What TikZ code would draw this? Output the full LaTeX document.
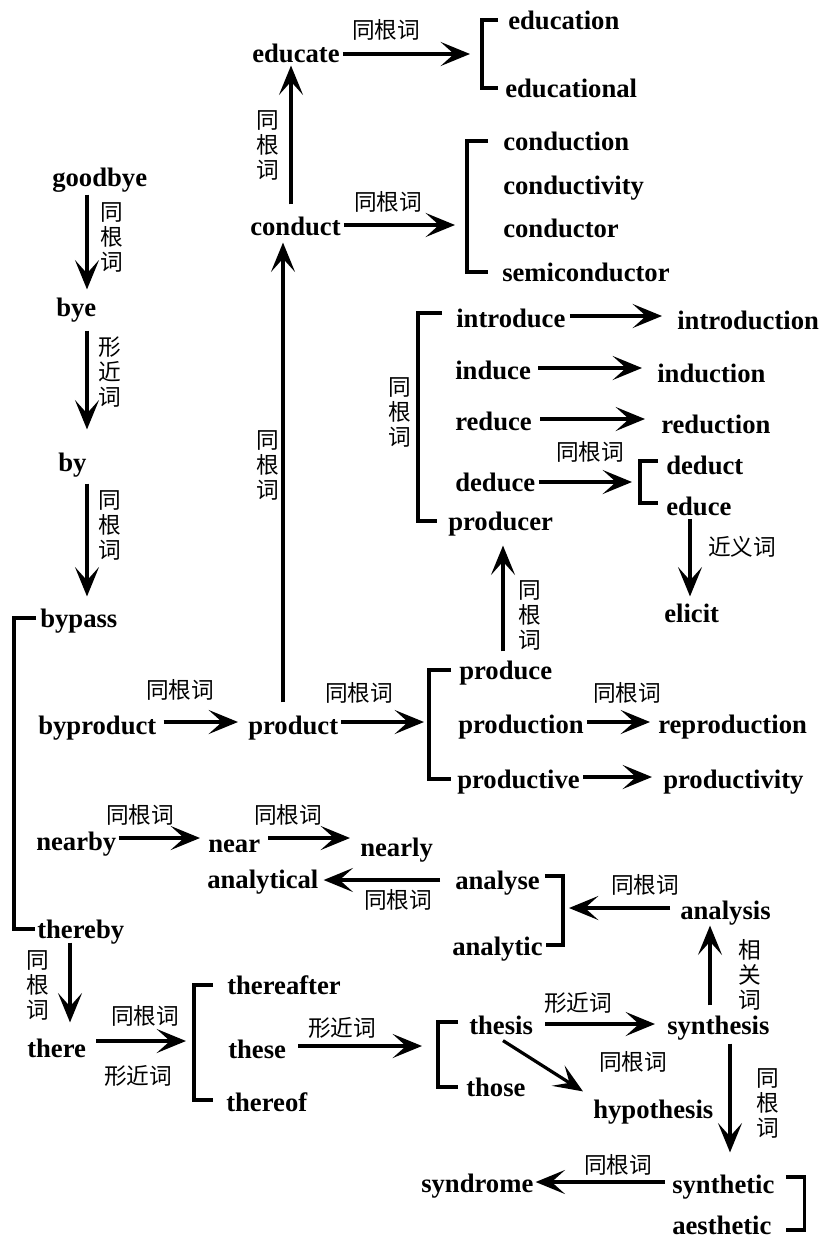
\documentclass[tikz,border=0pt]{standalone}
\usepackage{fontspec}
\setmainfont{Liberation Serif}
\newfontfamily\cjk{Noto Sans CJK SC}
\usetikzlibrary{arrows.meta,calc}
\begin{document}
\begin{tikzpicture}[x=0.75pt,y=-0.75pt,
 w/.style={anchor=west, inner sep=0pt, font=\fontsize{20}{24}\selectfont\bfseries, text height=14pt, text depth=0pt},
 lab/.style={inner sep=0pt, font=\cjk\fontsize{17}{18.75}\selectfont},
 vlab/.style={lab, align=center},
 arr/.style={line width=2.4pt, -{Stealth[length=22pt,width=18pt,inset=10pt]}},
 brk/.style={line width=2.4pt}]
\useasboundingbox (0,0) rectangle (821,1239);

% words
\node[w] (goodbye) at (52,177) {goodbye};
\node[w] (bye) at (56,307) {bye};
\node[w] (by) at (58,462) {by};
\node[w] (bypass) at (40,618) {bypass};
\node[w] (byproduct) at (38,725) {byproduct};
\node[w] (product) at (248,725) {product};
\node[w] (conduct) at (250,226) {conduct};
\node[w] (educate) at (252,53) {educate};
\node[w] (education) at (508,20) {education};
\node[w] (educational) at (505,88) {educational};
\node[w] (conduction) at (503,141) {conduction};
\node[w] (conductivity) at (503,185) {conductivity};
\node[w] (conductor) at (503,228) {conductor};
\node[w] (semiconductor) at (502,272) {semiconductor};
\node[w] (introduce) at (456,318) {introduce};
\node[w] (introduction) at (677,320) {introduction};
\node[w] (induce) at (455,370) {induce};
\node[w] (induction) at (657,373) {induction};
\node[w] (reduce) at (455,421) {reduce};
\node[w] (reduction) at (661,424) {reduction};
\node[w] (deduce) at (455,482) {deduce};
\node[w] (deduct) at (666,465) {deduct};
\node[w] (educe) at (666,506) {educe};
\node[w] (producer) at (448,521) {producer};
\node[w] (elicit) at (664,613) {elicit};
\node[w] (produce) at (459,670) {produce};
\node[w] (production) at (458,724) {production};
\node[w] (productive) at (457,779) {productive};
\node[w] (reproduction) at (658,724) {reproduction};
\node[w] (productivity) at (663,779) {productivity};
\node[w] (nearby) at (36,841) {nearby};
\node[w] (near) at (208,843) {near};
\node[w] (nearly) at (360,847) {nearly};
\node[w] (analytical) at (207,879) {analytical};
\node[w] (analyse) at (455,880) {analyse};
\node[w] (analytic) at (452,946) {analytic};
\node[w] (analysis) at (680,910) {analysis};
\node[w] (thereby) at (37,929) {thereby};
\node[w] (there) at (27,1048) {there};
\node[w] (thereafter) at (227,985) {thereafter};
\node[w] (these) at (228,1049) {these};
\node[w] (thereof) at (226,1102) {thereof};
\node[w] (thesis) at (469,1025) {thesis};
\node[w] (those) at (466,1087) {those};
\node[w] (synthesis) at (667,1025) {synthesis};
\node[w] (hypothesis) at (593,1109) {hypothesis};
\node[w] (synthetic) at (672,1184) {synthetic};
\node[w] (aesthetic) at (672,1225) {aesthetic};
\node[w] (syndrome) at (421,1183) {syndrome};

% brackets
\draw[brk] ($(bypass.west)+(-4,0)$) -- ($(bypass.west)+(-26,0)$) coordinate (b0) |- ($(thereby.west)+(-2,0)$);
\draw[brk] ($(education.west)+(-10,0)$) -- ($(education.west)+(-26,0)$) coordinate (b6) |- ($(educational.west)+(-7,0)$);
\draw[brk] ($(conduction.west)+(-15,0)$) -- ($(conduction.west)+(-36,0)$) coordinate (b7) |- ($(semiconductor.west)+(-14,0)$);
\draw[brk] ($(introduce.west)+(-14,-5)$) -- ($(introduce.west)+(-38,-5)$) coordinate (b4) |- ($(producer.west)+(-11,0)$);
\draw[brk] ($(deduct.west)+(-8,-4)$) -- ($(deduct.west)+(-26,-4)$) coordinate (b5) |- ($(educe.west)+(-8,-3)$);
\draw[brk] ($(produce.west)+(-8,0)$) -- ($(produce.west)+(-30,0)$) coordinate (b3) |- ($(productive.west)+(-6,0)$);
\draw[brk] ($(analyse.east)+(5,-4)$) -- ($(analyse.east)+(23,-4)$) coordinate (b1) |- ($(analytic.east)+(3,-1)$);
\draw[brk] ($(thereafter.west)+(-14,0)$) -- ($(thereafter.west)+(-33,0)$) coordinate (b2) |- ($(thereof.west)+(-13,-2)$);
\draw[brk] ($(thesis.west)+(-11,-3)$) -- ($(thesis.west)+(-31,-3)$) coordinate (b9) |- ($(those.west)+(-8,0)$);
\draw[brk] ($(synthetic.east)+(11,-7)$) -- ($(synthetic.east)+(30,-7)$) coordinate (b8) |- ($(aesthetic.east)+(14,5)$);

% vertical arrows
\draw[arr] ($(goodbye.south -| bye.west)+(31,8)$) -- ($(bye.north -| bye.west)+(31,-8)$);
\draw[arr] ($(bye.south -| by.west)+(29,14)$) -- ($(by.north -| by.west)+(29,-23)$);
\draw[arr] ($(by.south -| by.west)+(29,12)$) -- ($(bypass.north -| by.west)+(29,-12)$);
\draw[arr] ($(thereby.south -| there.west)+(43,4)$) -- ($(there.north -| there.west)+(43,-16)$);
\draw[arr] ($(product.north -| product.west)+(35,-13)$) -- ($(conduct.south -| product.west)+(35,7)$);
\draw[arr] ($(conduct.north -| conduct.west)+(41,-12)$) -- ($(educate.south -| conduct.west)+(41,3)$);
\draw[arr] ($(produce.north -| producer.west)+(55,-9)$) -- ($(producer.south -| producer.west)+(55,15)$);
\draw[arr] ($(educe.south -| elicit.west)+(26,3)$) -- ($(elicit.north -| elicit.west)+(26,-7)$);
\draw[arr] ($(synthesis.north -| synthesis.west)+(43,-10)$) -- ($(analysis.south -| synthesis.west)+(43,6)$);
\draw[arr] ($(synthesis.south -| synthetic.west)+(58,9)$) -- ($(synthetic.north -| synthetic.west)+(58,-22)$);

% horizontal arrows
\draw[arr] ($(educate.east)+(3,1)$) -- ($(educate.east -| b6)+(-12,1)$);
\draw[arr] ($(conduct.east)+(3,-1)$) -- ($(conduct.east -| b7)+(-12,-1)$);
\draw[arr] ($(byproduct.east)+(7,-3)$) -- ($(byproduct.east -| product.west)+(-10,-3)$);
\draw[arr] ($(product.east)+(3,-3)$) -- ($(product.east -| b3)+(-5,-3)$);
\draw[arr] ($(production.east)+(3,-2)$) -- ($(production.east -| reproduction.west)+(-8,-2)$);
\draw[arr] ($(productive.east)+(3,-2)$) -- ($(productive.east -| productivity.west)+(-11,-2)$);
\draw[arr] ($(introduce.east)+(4,-2)$) -- ($(introduce.east -| introduction.west)+(-15,-2)$);
\draw[arr] ($(induce.east)+(7,-2)$) -- ($(induce.east -| induction.west)+(-15,-2)$);
\draw[arr] ($(reduce.east)+(8,-2)$) -- ($(reduce.east -| reduction.west)+(-16,-2)$);
\draw[arr] ($(deduce.east)+(3,0)$) -- ($(deduce.east -| b5)+(-8,0)$);
\draw[arr] ($(nearby.east)+(2,-3)$) -- ($(nearby.east -| near.west)+(-8,-3)$);
\draw[arr] ($(near.east)+(8,-5)$) -- ($(near.east -| nearly.west)+(-10,-5)$);
\draw[arr] ($(analyse.west)+(-15,0)$) -- ($(analyse.west -| analytical.east)+(5,0)$);
\draw[arr] ($(analysis.west)+(-10,-2)$) -- ($(analysis.west -| b1)+(6,-2)$);
\draw[arr] ($(there.east)+(10,-7)$) -- ($(there.east -| b2)+(-8,-7)$);
\draw[arr] ($(these.east)+(12,-3)$) -- ($(these.east -| b9)+(-16,-3)$);
\draw[arr] ($(thesis.east)+(12,-1)$) -- ($(thesis.east -| synthesis.west)+(-12,-1)$);
\draw[arr] ($(thesis.south west)+(34,6)$) -- ($(hypothesis.north west)+(-10,-8)$);
\draw[arr] ($(synthetic.west)+(-7,-2)$) -- ($(synthetic.west -| syndrome.east)+(2,-2)$);

% labels
\node[vlab] (l1) at (112,237) {同\\根\\词};
\node[vlab] (l2) at (110,372) {形\\近\\词};
\node[vlab] (l3) at (110,525) {同\\根\\词};
\node[vlab] (l4) at (38,985) {同\\根\\词};
\node[vlab] (l5) at (268,465) {同\\根\\词};
\node[vlab] (l6) at (268,145) {同\\根\\词};
\node[vlab] (l7) at (530,615) {同\\根\\词};
\node[lab] (l8) at (742,547) {近义词};
\node[vlab] (l9) at (750,975) {相\\关\\词};
\node[vlab] (l10) at (768,1103) {同\\根\\词};
\node[lab] (l11) at (386,30) {同根词};
\node[lab] (l12) at (388,202) {同根词};
\node[lab] (l13) at (180,690) {同根词};
\node[lab] (l14) at (359,693) {同根词};
\node[lab] (l15) at (627,693) {同根词};
\node[lab] (l16) at (590,452) {同根词};
\node[lab] (l17) at (140,815) {同根词};
\node[lab] (l18) at (288,815) {同根词};
\node[lab] (l19) at (398,900) {同根词};
\node[lab] (l20) at (645,885) {同根词};
\node[lab] (l21) at (145,1016) {同根词};
\node[lab] (l22) at (138,1076) {形近词};
\node[lab] (l23) at (342,1028) {形近词};
\node[lab] (l24) at (578,1003) {形近词};
\node[lab] (l25) at (633,1062) {同根词};
\node[lab] (l26) at (618,1165) {同根词};
\node[vlab] (l27) at (400,412) {同\\根\\词};
\end{tikzpicture}
\end{document}
